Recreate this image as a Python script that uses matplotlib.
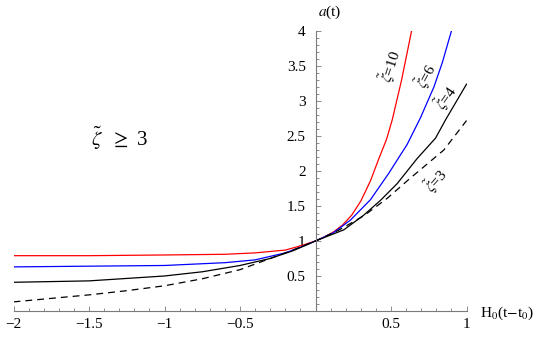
"""
plot.py — scale factor a(t) for several zeta-tilde values (Mathematica-style axes).
"""

import matplotlib
matplotlib.use("Agg")
import matplotlib.pyplot as plt
from matplotlib.ticker import MultipleLocator

plt.rcParams["font.family"] = ["Liberation Serif", "DejaVu Serif"]
plt.rcParams["mathtext.fontset"] = "stix"

# values
T_10 = [-2, -1.5, -1, -0.6, -0.4, -0.2, -0.1, 0, 0.06, 0.12, 0.18, 0.24, 0.3, 0.364, 0.42, 0.47, 0.508, 0.57, 0.636]
A_10 = [0.79, 0.79, 0.80, 0.81, 0.83, 0.87, 0.93, 1.0, 1.06, 1.13, 1.23, 1.37, 1.57, 1.86, 2.18, 2.45, 2.73, 3.3, 4.0]

T_6 = [-2, -1.5, -1, -0.6, -0.4, -0.2, -0.1, 0, 0.12, 0.232, 0.364, 0.486, 0.607, 0.695, 0.784, 0.84, 0.9]
A_6 = [0.63, 0.64, 0.65, 0.69, 0.73, 0.83, 0.91, 1.0, 1.12, 1.30, 1.59, 1.97, 2.38, 2.76, 3.2, 3.55, 4.0]

T_4 = [-2, -1.5, -1, -0.75, -0.5, -0.3, -0.15, 0, 0.188, 0.32, 0.43, 0.541, 0.67, 0.795, 0.861, 1.0]
A_4 = [0.41, 0.43, 0.50, 0.56, 0.65, 0.75, 0.86, 1.0, 1.16, 1.37, 1.58, 1.82, 2.17, 2.47, 2.73, 3.24]

T_3 = [-2, -1.75, -1.5, -1.25, -1, -0.75, -0.5, -0.3, -0.15, 0, 0.15, 0.32, 0.475, 0.629, 0.85, 1.0]
A_3 = [0.13, 0.18, 0.23, 0.29, 0.36, 0.46, 0.59, 0.75, 0.87, 1.0, 1.15, 1.36, 1.61, 1.90, 2.30, 2.72]

X_TICKS = [-2, -1.5, -1, -0.5, 0.5, 1]
Y_TICKS = [0.5, 1, 1.5, 2, 2.5, 3, 3.5, 4]

# curve labels: (text, t, a, rotation)
LABELS = [
    (r"$\tilde{\zeta}$=10", 0.497, 3.49, 72),
    (r"$\tilde{\zeta}$=6", 0.733, 3.36, 62),
    (r"$\tilde{\zeta}$=4", 0.868, 3.05, 55),
    (r"$\tilde{\zeta}$=3", 0.80, 1.86, 48),
]

GREY = "#7a7a7a"


def main():
    fig = plt.figure(figsize=(5.45, 3.37), dpi=100)
    ax = fig.add_axes([0.0248, 0.0772, 0.8312, 0.8309])

    ax.plot(T_10, A_10, color="#ff0000", lw=0.9)
    ax.plot(T_6, A_6, color="#0000ff", lw=0.9)
    ax.plot(T_4, A_4, color="black", lw=0.9)
    ax.plot(T_3, A_3, color="black", lw=0.9, linestyle=(0, (5.5, 4)))

    ax.set_xlim(-2, 1)
    ax.set_ylim(0, 4)

    # axes through the origin
    for side in ("top", "right"):
        ax.spines[side].set_visible(False)
    ax.spines["left"].set_position(("data", 0))
    ax.spines["bottom"].set_position(("data", 0))
    for side in ("left", "bottom"):
        ax.spines[side].set_color(GREY)
        ax.spines[side].set_linewidth(0.8)

    ax.set_xticks(X_TICKS)
    ax.set_yticks(Y_TICKS)
    ax.set_xticklabels([f"{v:g}".replace("-", "\u2212") for v in X_TICKS])
    ax.set_yticklabels([f"{v:g}" for v in Y_TICKS])
    ax.xaxis.set_minor_locator(MultipleLocator(0.1))
    ax.yaxis.set_minor_locator(MultipleLocator(0.1))
    ax.tick_params(which="both", direction="in", color=GREY, width=0.6)
    ax.tick_params(which="major", length=3.5, labelsize=11)
    ax.tick_params(which="minor", length=2)
    ax.tick_params(axis="x", which="major", pad=5)
    ax.tick_params(axis="y", which="major", pad=7)

    for txt, t, a, rot in LABELS:
        ax.text(t, a, txt, fontsize=11, rotation=rot, ha="center", va="center",
                rotation_mode="anchor")

    ax.text(-1.30, 2.47, r"$\tilde{\zeta}$  $\geq$ 3", fontsize=15,
            ha="center", va="center")

    fig.text(330 / 545, 1 - 12 / 337, r"$a$(t)", fontsize=11,
             ha="center", va="center")
    fig.text(480 / 545, 1 - 313 / 337, r"H$_0$(t$-$t$_0$)", fontsize=11,
             ha="left", va="center")

    fig.savefig("out.png", dpi=100)
    plt.close(fig)


if __name__ == "__main__":
    main()
